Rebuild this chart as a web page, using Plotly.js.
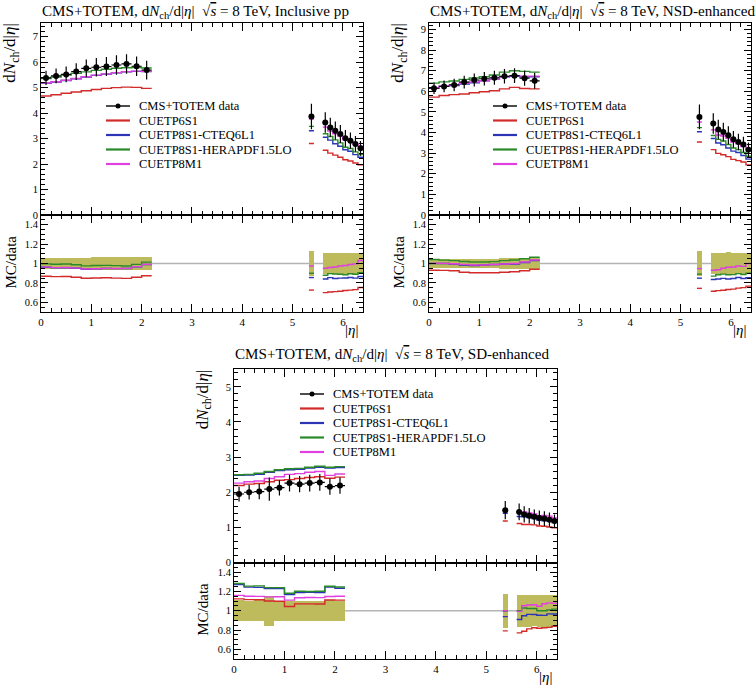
<!DOCTYPE html>
<html><head><meta charset="utf-8">
<script src="https://cdn.plot.ly/plotly-3.0.1.min.js"></script>
<style>html,body{margin:0;padding:0;background:#fff}</style>
</head><body><div id="chart" style="width:756px;height:688px"></div>
<script>
// ---- bins (|eta|) ----
const binLo = [0,0.2,0.4,0.6,0.8,1.0,1.2,1.4,1.6,1.8,2.0, 5.325, 5.6,5.7,5.8,5.9,6.0,6.1,6.2,6.3];
const binHi = [0.2,0.4,0.6,0.8,1.0,1.2,1.4,1.6,1.8,2.0,2.2, 5.425, 5.7,5.8,5.9,6.0,6.1,6.2,6.3,6.4];
const xTickLabels = ['0','1','2','3','4','5','6'];
const seriesNames = ['CMS+TOTEM data','CUETP6S1','CUETP8S1-CTEQ6L1','CUETP8S1-HERAPDF1.5LO','CUETP8M1'];

// ---- Inclusive pp ----
const incData = [5.38,5.46,5.52,5.63,5.76,5.80,5.83,5.89,5.93,5.84,5.69, 3.87, 3.63,3.44,3.31,3.18,3.01,2.92,2.79,2.62];
const incErr  = [0.28,0.29,0.31,0.33,0.35,0.36,0.37,0.38,0.38,0.38,0.37, 0.50, 0.40,0.38,0.36,0.35,0.33,0.32,0.31,0.29];
const incP6   = [4.67,4.72,4.78,4.83,4.88,4.93,4.97,5.00,5.02,5.01,4.97, 2.81, 2.54,2.43,2.35,2.27,2.17,2.12,2.04,1.97];
const incCteq = [5.17,5.22,5.28,5.35,5.42,5.48,5.53,5.58,5.62,5.64,5.63, 3.31, 3.05,2.94,2.80,2.70,2.56,2.50,2.37,2.27];
const incHera = [5.36,5.42,5.49,5.56,5.62,5.68,5.72,5.76,5.78,5.79,5.77, 3.48, 3.19,3.08,2.95,2.83,2.66,2.61,2.48,2.37];
const incM1   = [5.18,5.23,5.29,5.36,5.43,5.49,5.54,5.59,5.63,5.65,5.64, 3.77, 3.45,3.30,3.19,3.10,2.95,2.89,2.78,2.70];

// ---- NSD-enhanced ----
const nsdData = [6.15,6.24,6.31,6.45,6.55,6.61,6.66,6.73,6.76,6.64,6.51, 4.76, 4.44,4.15,4.03,3.87,3.67,3.54,3.42,3.17];
const nsdErr  = [0.28,0.29,0.30,0.31,0.32,0.33,0.34,0.35,0.36,0.37,0.39, 0.60, 0.50,0.47,0.45,0.44,0.41,0.40,0.38,0.35];
const nsdP6   = [5.72,5.80,5.84,5.87,5.93,5.98,6.03,6.12,6.19,6.14,6.12, 3.54, 3.17,2.99,2.92,2.83,2.70,2.64,2.57,2.43];
const nsdCteq = [6.15,6.24,6.28,6.35,6.42,6.51,6.59,6.70,6.73,6.71,6.71, 4.04, 3.71,3.49,3.41,3.25,3.10,3.03,2.89,2.71];
const nsdHera = [6.40,6.46,6.50,6.58,6.65,6.71,6.79,6.93,7.00,6.97,6.93, 4.24, 3.86,3.67,3.59,3.42,3.25,3.17,3.03,2.85];
const nsdM1   = [6.16,6.25,6.29,6.39,6.45,6.51,6.59,6.70,6.76,6.74,6.74, 4.51, 4.13,3.88,3.83,3.72,3.54,3.45,3.32,3.17];

// ---- SD-enhanced ----
const sdData = [1.95,2.00,2.02,2.09,2.13,2.26,2.23,2.26,2.28,2.16,2.19, 1.49, 1.44,1.37,1.33,1.30,1.27,1.25,1.22,1.18];
const sdErr  = [0.21,0.21,0.22,0.33,0.22,0.24,0.23,0.24,0.24,0.23,0.23, 0.26, 0.24,0.23,0.22,0.21,0.21,0.21,0.20,0.19];
const sdP6   = [2.19,2.23,2.25,2.30,2.34,2.36,2.39,2.42,2.44,2.40,2.43, 1.18, 1.11,1.08,1.08,1.07,1.04,1.03,1.01,0.99];
const sdCteq = [2.48,2.49,2.51,2.57,2.62,2.64,2.65,2.69,2.71,2.69,2.70, 1.40, 1.31,1.30,1.28,1.25,1.21,1.19,1.18,1.14];
const sdHera = [2.50,2.51,2.54,2.59,2.64,2.67,2.68,2.71,2.74,2.71,2.73, 1.48, 1.44,1.41,1.36,1.33,1.27,1.25,1.23,1.20];
const sdM1   = [2.26,2.30,2.32,2.39,2.44,2.51,2.53,2.57,2.59,2.48,2.52, 1.49, 1.43,1.44,1.41,1.38,1.33,1.34,1.32,1.27];

// ---- style ----
const W = 756, H = 688;
const FONT = 'Liberation Serif, Times New Roman, serif';
const COLORS = ['#d42a2a', '#2b35b5', '#2a8a2a', '#e040e0'];
const BAND = '#bdbb5c';
const px = v => v / W, py = v => 1 - v / H;

const panels = [
  {title:'Inclusive pp', data:incData, err:incErr, mc:[incP6,incCteq,incHera,incM1], yMax:7.55,
   x0:41, x1:363, yTop:22.7, yMid:215, yBot:312, titleX:41, titleY:12, legX:106, legY:106},
  {title:'NSD-enhanced', data:nsdData, err:nsdErr, mc:[nsdP6,nsdCteq,nsdHera,nsdM1], yMax:9.33,
   x0:429, x1:751, yTop:22.7, yMid:215, yBot:312, titleX:429, titleY:12, legX:493, legY:106},
  {title:'SD-enhanced', data:sdData, err:sdErr, mc:[sdP6,sdCteq,sdHera,sdM1], yMax:5.5,
   x0:234, x1:557, yTop:369.3, yMid:562.5, yBot:659, titleX:234, titleY:355, legX:300, legY:394}
];

function steps(vals) {
  const xs = [], ys = [];
  for (let i = 0; i < vals.length; i++) {
    if (i > 0 && Math.abs(binLo[i] - binHi[i-1]) > 1e-9) {
      xs.push(binHi[i-1]); ys.push(vals[i-1]);
      xs.push(null); ys.push(null);
    }
    xs.push(binLo[i]); ys.push(vals[i]);
  }
  xs.push(binHi[vals.length-1]); ys.push(vals[vals.length-1]);
  return {xs, ys};
}

const centers = binLo.map((l,i) => (l + binHi[i]) / 2);
const halfW = binLo.map((l,i) => (binHi[i] - l) / 2);

const traces = [];
const layout = {
  width: W, height: H, margin:{l:0,r:0,t:0,b:0}, paper_bgcolor:'#fff', plot_bgcolor:'#fff',
  showlegend:false, barmode:'overlay', bargap:0,
  font:{family:FONT, color:'#000'},
  annotations:[], shapes:[]
};

function xAxis(dom, anchor, labels) {
  return {domain:dom, anchor, range:[0,6.4], tickmode:'array', tickvals:[0,1,2,3,4,5,6], ticktext:xTickLabels,
    ticks:'inside', ticklen:8, tickwidth:1, tickcolor:'#000', mirror:'allticks',
    showline:true, linecolor:'#000', linewidth:1, showgrid:false, zeroline:false,
    showticklabels:labels, tickfont:{family:FONT, size:11, color:'#000'},
    minor:{dtick:0.2, tick0:0, ticks:'inside', ticklen:4, tickwidth:1, tickcolor:'#000', showgrid:false}};
}
function yAxis(dom, anchor, range, dtick, minor) {
  return {domain:dom, anchor, range, dtick, tick0:0,
    ticks:'inside', ticklen:7, tickwidth:1, tickcolor:'#000', mirror:'allticks',
    showline:true, linecolor:'#000', linewidth:1, showgrid:false, zeroline:false,
    tickfont:{family:FONT, size:10.5, color:'#000'},
    minor:{dtick:minor, tick0:0, ticks:'inside', ticklen:4, tickwidth:1, tickcolor:'#000', showgrid:false}};
}

panels.forEach((p, k) => {
  const nMain = 2*k + 1, nRat = 2*k + 2;
  const xm = 'x' + nMain, ym = 'y' + nMain, xr = 'x' + nRat, yr = 'y' + nRat;
  const xdom = [px(p.x0), px(p.x1)];
  layout['xaxis' + nMain] = xAxis(xdom, ym, false);
  layout['yaxis' + nMain] = yAxis([py(p.yMid), py(p.yTop)], xm, [0, p.yMax], 1, 0.2);
  layout['xaxis' + nRat] = xAxis(xdom, yr, true);
  layout['yaxis' + nRat] = yAxis([py(p.yBot), py(p.yMid)], xr, [0.5, 1.5], 0.2, 0.05);

  // ratio reference line at 1
  layout.shapes.push({type:'line', xref: xr + ' domain', yref: yr, x0:0, x1:1, y0:1, y1:1,
    line:{color:'#b4b4b4', width:1.5}, layer:'below'});

  // ratio error band
  traces.push({type:'bar', x:centers, width:binLo.map((l,i)=>binHi[i]-l),
    base:p.err.map((e,i)=>1 - e/p.data[i]), y:p.err.map((e,i)=>2*e/p.data[i]),
    marker:{color:BAND, line:{width:0}}, xaxis:xr, yaxis:yr, hoverinfo:'skip'});

  // MC curves in main + ratio
  p.mc.forEach((vals, j) => {
    const s = steps(vals);
    traces.push({type:'scatter', mode:'lines', x:s.xs, y:s.ys, line:{shape:'hv', color:COLORS[j], width:1.4},
      xaxis:xm, yaxis:ym, connectgaps:false, hoverinfo:'skip'});
    const r = steps(vals.map((v,i)=>v / p.data[i]));
    traces.push({type:'scatter', mode:'lines', x:r.xs, y:r.ys, line:{shape:'hv', color:COLORS[j], width:1.4},
      xaxis:xr, yaxis:yr, connectgaps:false, hoverinfo:'skip'});
  });

  // data
  traces.push({type:'scatter', mode:'markers', x:centers, y:p.data,
    marker:{color:'#000', size:6},
    error_y:{type:'data', array:p.err, visible:true, width:0, thickness:1.2, color:'#000'},
    error_x:{type:'data', array:halfW, visible:true, width:0, thickness:1.2, color:'#000'},
    xaxis:xm, yaxis:ym, hoverinfo:'skip'});

  // titles
  layout.annotations.push({xref:'paper', yref:'paper', x:px(p.titleX - 1), y:py(p.titleY), xanchor:'left', yanchor:'middle',
    showarrow:false, font:{family:FONT, size:15.1, color:'#000'},
    text:'CMS+TOTEM, d<i>N</i><sub>ch</sub>/d|<i>η</i>|&nbsp; √<span style="text-decoration:overline"><i>s</i></span> = 8 TeV, ' + p.title});
  layout.annotations.push({xref:'paper', yref:'paper', x:px(p.x0 - 30), y:py(p.yTop - 2), xanchor:'center', yanchor:'top',
    textangle:-90, showarrow:false, font:{family:FONT, size:17, color:'#000'},
    text:'d<i>N</i><sub>ch</sub>/d|<i>η</i>|'});
  layout.annotations.push({xref:'paper', yref:'paper', x:px(p.x0 - 31), y:py((p.yMid + p.yBot)/2 - 1), xanchor:'center', yanchor:'middle',
    textangle:-90, showarrow:false, font:{family:FONT, size:15, color:'#000'}, text:'MC/data'});
  layout.annotations.push({xref:'paper', yref:'paper', x:px(p.x1 - 3), y:py(p.yBot + 18), xanchor:'right', yanchor:'middle',
    showarrow:false, font:{family:FONT, size:15, color:'#000'}, text:'|<i>η</i>|'});

  // legend
  const rowH = 14.5;
  seriesNames.forEach((name, j) => {
    const yy = p.legY + j*rowH;
    const col = j === 0 ? '#000' : COLORS[j-1];
    layout.shapes.push({type:'line', xref:'paper', yref:'paper', x0:px(p.legX), x1:px(p.legX+24), y0:py(yy), y1:py(yy),
      line:{color:col, width: j === 0 ? 1.4 : 2.2}});
    if (j === 0) {
      layout.shapes.push({type:'circle', xref:'paper', yref:'paper', x0:px(p.legX+9.5), x1:px(p.legX+14.5), y0:py(yy+2.5), y1:py(yy-2.5),
        fillcolor:'#000', line:{color:'#000', width:0}});
    }
    layout.annotations.push({xref:'paper', yref:'paper', x:px(p.legX+31), y:py(yy), xanchor:'left', yanchor:'middle',
      showarrow:false, font:{family:FONT, size:12.5, color:'#000'}, text:name});
  });
});

Plotly.newPlot('chart', traces, layout, {staticPlot:true, displayModeBar:false});
</script>
</body></html>
